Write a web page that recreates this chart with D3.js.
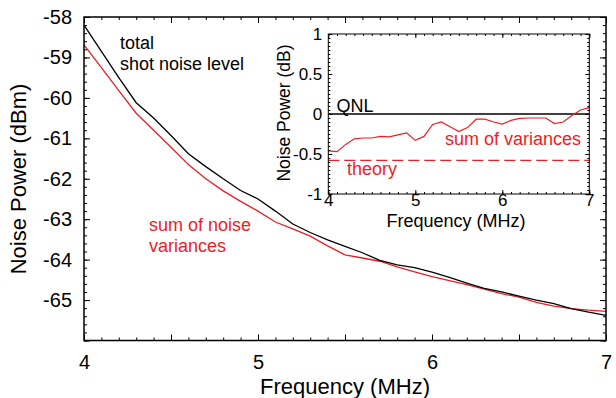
<!DOCTYPE html>
<html><head><meta charset="utf-8">
<script src="https://cdn.jsdelivr.net/npm/d3@7"></script>
<style>
body{margin:0;background:#fff}
svg{display:block}
text{font-family:"Liberation Sans",Arial,Helvetica,sans-serif}
</style>
</head><body>
<svg id="chart" width="616" height="398"></svg>
<script>
// ---- data ----
const freq = [4.0,4.1,4.2,4.3,4.4,4.5,4.6,4.7,4.8,4.9,5.0,5.1,5.2,5.3,5.4,5.5,5.6,5.7,5.8,5.9,6.0,6.1,6.2,6.3,6.4,6.5,6.6,6.7,6.8,6.9,7.0];
const totalShotNoise = [-58.2,-58.85,-59.5,-60.12,-60.5,-60.93,-61.38,-61.7,-62.0,-62.29,-62.5,-62.8,-63.12,-63.33,-63.51,-63.67,-63.83,-64.02,-64.13,-64.2,-64.31,-64.44,-64.58,-64.71,-64.8,-64.9,-65.0,-65.09,-65.21,-65.3,-65.38];
const sumNoiseVariances = [-58.69,-59.25,-59.82,-60.38,-60.8,-61.22,-61.65,-62.0,-62.3,-62.56,-62.8,-63.07,-63.24,-63.42,-63.66,-63.88,-63.96,-64.04,-64.18,-64.3,-64.42,-64.52,-64.62,-64.73,-64.84,-64.93,-65.06,-65.15,-65.21,-65.25,-65.28];
const sumOfVariancesDB = [-0.46,-0.47,-0.38,-0.31,-0.30,-0.30,-0.28,-0.285,-0.26,-0.235,-0.33,-0.28,-0.13,-0.10,-0.16,-0.22,-0.17,-0.065,-0.065,-0.10,-0.125,-0.08,-0.055,-0.05,-0.05,-0.05,-0.12,-0.10,-0.02,0.05,0.08];
const theoryDB = -0.58;
const qnlDB = 0;
const mainXTicks = [4,5,6,7];
const mainYTicks = [-65,-64,-63,-62,-61,-60,-59,-58];
const insetXTicks = [4,5,6,7];
const insetYTicks = [-1,-0.5,0,0.5,1];

const RED = "#ee1d25";
const svg = d3.select("#chart");
const plainFmt = d => String(d); // keeps ASCII hyphen-minus like the reference

function noDomain(g){ g.select(".domain").remove(); }

function frameAxes(g, x, y, opt){
  const [x0,x1] = x.range(), [y0,y1] = y.range(); // y0 bottom, y1 top
  const fs = opt.fontSize;
  const styleText = s=>s.selectAll("text").attr("font-size",fs).attr("fill","#000")
      .style("font-family","'Liberation Sans',Arial,Helvetica,sans-serif");
  // bottom
  g.append("g").attr("transform",`translate(0,${y0})`)
    .call(d3.axisBottom(x).tickValues(opt.xMinor).tickSize(-opt.minorLen).tickFormat(""))
    .call(noDomain);
  g.append("g").attr("transform",`translate(0,${y0})`)
    .call(d3.axisBottom(x).tickValues(opt.xMajor).tickSize(-opt.majorLen).tickFormat(""))
    .call(noDomain);
  g.append("g").attr("transform",`translate(0,${y0})`)
    .call(d3.axisBottom(x).tickValues(opt.xLabels).tickSize(0).tickPadding(opt.xPad).tickFormat(plainFmt))
    .call(noDomain).call(styleText);
  // top
  g.append("g").attr("transform",`translate(0,${y1})`)
    .call(d3.axisTop(x).tickValues(opt.xMinor).tickSize(-opt.minorLen).tickFormat(""))
    .call(noDomain);
  g.append("g").attr("transform",`translate(0,${y1})`)
    .call(d3.axisTop(x).tickValues(opt.xMajor).tickSize(-opt.majorLen).tickFormat(""))
    .call(noDomain);
  // left
  g.append("g").attr("transform",`translate(${x0},0)`)
    .call(d3.axisLeft(y).tickValues(opt.yMinor).tickSize(-opt.minorLen).tickFormat(""))
    .call(noDomain);
  g.append("g").attr("transform",`translate(${x0},0)`)
    .call(d3.axisLeft(y).tickValues(opt.yMajor).tickSize(-opt.majorLen).tickFormat(""))
    .call(noDomain);
  g.append("g").attr("transform",`translate(${x0},0)`)
    .call(d3.axisLeft(y).tickValues(opt.yLabels).tickSize(0).tickPadding(opt.yPad).tickFormat(plainFmt))
    .call(noDomain).call(styleText);
  // right
  g.append("g").attr("transform",`translate(${x1},0)`)
    .call(d3.axisRight(y).tickValues(opt.yMinor).tickSize(-opt.minorLen).tickFormat(""))
    .call(noDomain);
  g.append("g").attr("transform",`translate(${x1},0)`)
    .call(d3.axisRight(y).tickValues(opt.yMajor).tickSize(-opt.majorLen).tickFormat(""))
    .call(noDomain);
  g.selectAll(".tick line").attr("stroke","#000").attr("stroke-width",1);
  g.append("rect").attr("x",x0).attr("y",y1).attr("width",x1-x0).attr("height",y0-y1)
    .attr("fill","none").attr("stroke","#000").attr("stroke-width",opt.frameW);
}

// ---- main chart ----
const x = d3.scaleLinear().domain([4,7]).range([84,606]);
const y = d3.scaleLinear().domain([-66,-58]).range([340.5,17]);
const main = svg.append("g");

const line = d3.line().x((d,i)=>x(freq[i])).y(d=>y(d));
main.append("path").datum(sumNoiseVariances).attr("d",line)
  .attr("fill","none").attr("stroke",RED).attr("stroke-width",1.3);
main.append("path").datum(totalShotNoise).attr("d",line)
  .attr("fill","none").attr("stroke","#000").attr("stroke-width",1.3);

frameAxes(main, x, y, {
  fontSize: 20,
  xMinor: d3.range(40,71).map(v=>v/10),
  xMajor: d3.range(8,15).map(v=>v/2),
  xLabels: mainXTicks,
  yMinor: d3.range(-330,-289).map(v=>v/5),
  yMajor: d3.range(-66,-57),
  yLabels: mainYTicks,
  minorLen: 3, majorLen: 6, xPad: 14, yPad: 12, frameW: 1.5
});

main.append("text").attr("transform","translate(26,179) rotate(-90)")
  .attr("text-anchor","middle").attr("font-size",22).text("Noise Power (dBm)");
main.append("text").attr("x",345).attr("y",394)
  .attr("text-anchor","middle").attr("font-size",22).text("Frequency (MHz)");

main.append("text").attr("x",120).attr("y",49).attr("font-size",18).text("total");
main.append("text").attr("x",120).attr("y",70).attr("font-size",18).text("shot noise level");
main.append("text").attr("x",149).attr("y",231).attr("font-size",18).attr("fill",RED).text("sum of noise");
main.append("text").attr("x",149).attr("y",252).attr("font-size",18).attr("fill",RED).text("variances");

// ---- inset ----
const xi = d3.scaleLinear().domain([4,7]).range([328.3,589.3]);
const yi = d3.scaleLinear().domain([-1,1]).range([194,34]);
const inset = svg.append("g");

inset.append("line").attr("x1",xi(4)).attr("x2",xi(7)).attr("y1",yi(qnlDB)).attr("y2",yi(qnlDB))
  .attr("stroke","#000").attr("stroke-width",1.3);
inset.append("line").attr("x1",xi(4)).attr("x2",xi(7)).attr("y1",yi(theoryDB)).attr("y2",yi(theoryDB))
  .attr("stroke",RED).attr("stroke-width",1.3).attr("stroke-dasharray","11,5");
const lineI = d3.line().x((d,i)=>xi(freq[i])).y(d=>yi(d));
inset.append("path").datum(sumOfVariancesDB).attr("d",lineI)
  .attr("fill","none").attr("stroke",RED).attr("stroke-width",1.2);

frameAxes(inset, xi, yi, {
  fontSize: 17,
  xMinor: d3.range(40,71).map(v=>v/10),
  xMajor: insetXTicks,
  xLabels: insetXTicks,
  yMinor: d3.range(-20,21).map(v=>v/20),
  yMajor: insetYTicks,
  yLabels: insetYTicks,
  minorLen: 2, majorLen: 4, xPad: 0, yPad: 6, frameW: 1
});

inset.append("text").attr("transform","translate(289.5,113) rotate(-90)")
  .attr("text-anchor","middle").attr("font-size",17.5).text("Noise Power (dB)");
inset.append("text").attr("x",456).attr("y",226.5)
  .attr("text-anchor","middle").attr("font-size",18).text("Frequency (MHz)");
inset.append("text").attr("x",336.5).attr("y",111.5).attr("font-size",18).text("QNL");
inset.append("text").attr("x",445).attr("y",145).attr("font-size",18).attr("fill",RED).text("sum of variances");
inset.append("text").attr("x",347).attr("y",175).attr("font-size",18).attr("fill",RED).text("theory");
</script>
</body></html>
